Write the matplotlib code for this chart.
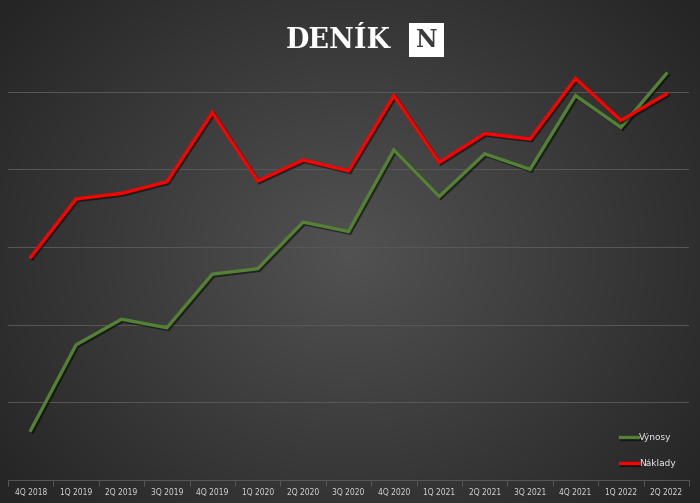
import numpy as np
import matplotlib
matplotlib.use("Agg")
import matplotlib.pyplot as plt
import matplotlib.patheffects as pe
from matplotlib.patches import Rectangle

quarters = ["4Q 2018", "1Q 2019", "2Q 2019", "3Q 2019", "4Q 2019", "1Q 2020", "2Q 2020",
            "3Q 2020", "4Q 2020", "1Q 2021", "2Q 2021", "3Q 2021", "4Q 2021", "1Q 2022", "2Q 2022"]
vynosy = [0.64, 1.74, 2.07, 1.96, 2.65, 2.72, 3.32, 3.20, 4.25, 3.65, 4.20, 4.00, 4.95, 4.54, 5.23]
naklady = [2.87, 3.62, 3.69, 3.84, 4.73, 3.85, 4.12, 3.98, 4.95, 4.09, 4.46, 4.39, 5.17, 4.63, 4.97]

W, H = 700, 503
fig = plt.figure(figsize=(W / 100, H / 100), dpi=100)

# radial gradient background
bg = fig.add_axes([0, 0, 1, 1], zorder=0)
yy, xx = np.mgrid[0:H, 0:W]
cx, cy = W * 0.5, H * 0.5
r = np.sqrt(((xx - cx) / (W * 0.62)) ** 2 + ((yy - cy) / (H * 0.75)) ** 2)
r = np.clip(r, 0, 1)
light = np.array([0x52, 0x52, 0x52]) / 255
dark = np.array([0x26, 0x26, 0x26]) / 255
img = light[None, None, :] * (1 - r[..., None]) + dark[None, None, :] * r[..., None]
bg.imshow(img, extent=[0, 1, 0, 1], aspect="auto", origin="upper")
bg.axis("off")

# plot axes
left, right = 8 / W, 689 / W
bottom, top = 1 - 480 / H, 1 - 14 / H
ax = fig.add_axes([left, bottom, right - left, top - bottom], zorder=1)
ax.patch.set_alpha(0)
x = np.arange(len(quarters))
ax.set_xlim(-0.5, len(quarters) - 0.5)
ax.set_ylim(0, 6)
ax.set_yticks([1, 2, 3, 4, 5])
ax.yaxis.grid(True, color="#585858", linewidth=0.7)
ax.tick_params(axis="y", left=False, labelleft=False)
for s in ["top", "right", "left"]:
    ax.spines[s].set_visible(False)
ax.spines["bottom"].set_color("#585858")
ax.spines["bottom"].set_linewidth(0.7)
ax.set_xticks(x)
ax.set_xticklabels(quarters, fontsize=5.5, color="#d9d9d9")
ax.tick_params(axis="x", length=0, pad=6)
ax.set_xticks(np.arange(len(quarters) + 1) - 0.5, minor=True)
ax.tick_params(axis="x", which="minor", length=4, color="#585858", width=0.7)

shadow = [pe.SimpleLineShadow(offset=(1.2, -1.2), shadow_color="black", alpha=0.5), pe.Normal()]
ax.plot(x, vynosy, color="#548235", linewidth=2.4, path_effects=shadow, solid_joinstyle="miter", label="Výnosy", zorder=3)
ax.plot(x, naklady, color="#ff0000", linewidth=2.4, path_effects=shadow, solid_joinstyle="miter", label="Náklady", zorder=3)

# legend
leg = ax.legend(loc="lower right", bbox_to_anchor=(0.992, 0.008), frameon=False, fontsize=6.5,
                labelcolor="#e8e8e8", handlelength=2.0, handletextpad=0.1, labelspacing=1.9)

# logo
fig.text(338 / W, 1 - 40 / H, "DENÍK", family="DejaVu Serif", fontweight="bold", fontsize=19.5,
         color="white", ha="center", va="center", zorder=5)
bg.add_patch(Rectangle((409 / W, 1 - 57 / H), 35 / W, 34 / H, transform=fig.transFigure,
                       facecolor="white", edgecolor="none", zorder=5))
fig.text(426.5 / W, 1 - 40 / H, "N", family="DejaVu Serif", fontweight="bold", fontsize=17,
         color="#3a3a3a", ha="center", va="center", zorder=6)

fig.savefig("out.png", dpi=100)
